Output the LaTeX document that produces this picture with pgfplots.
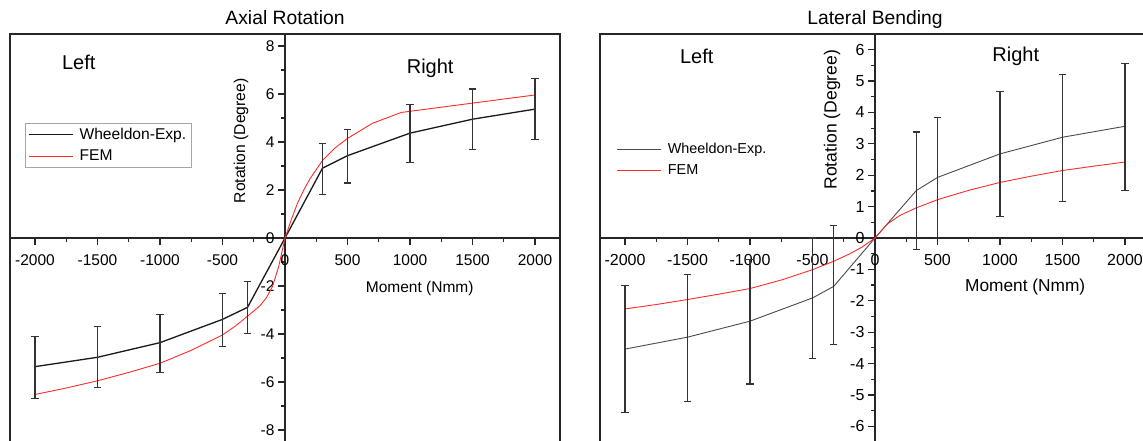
\documentclass[border=0pt]{standalone}
\usepackage{fontspec}
\setmainfont{Liberation Sans}
\usepackage{pgfplots}
\pgfplotsset{compat=1.18}
\usepackage{pgfplotstable}

\definecolor{frame}{HTML}{262626}
\definecolor{fem}{HTML}{FF2A2A}
\definecolor{errc}{HTML}{333333}
\definecolor{expR}{HTML}{4A4A4A}

% Axial rotation, experiment (Wheeldon): x, mean, +err, -err
\pgfplotstableread{
x y ep em
-2000 -5.36 1.25 1.32
-1500 -4.97 1.28 1.27
-1000 -4.36 1.18 1.24
-500 -3.39 1.08 1.14
-300 -2.89 1.07 1.08
0 0 0 0
300 2.91 1.02 1.11
500 3.43 1.08 1.14
1000 4.37 1.18 1.22
1500 4.95 1.26 1.27
2000 5.37 1.29 1.28
}\expA

\pgfplotstableread{
x y
-2000 -6.52
-1750 -6.25
-1500 -5.95
-1250 -5.60
-1000 -5.22
-750 -4.68
-500 -4.04
-400 -3.68
-300 -3.26
-200 -2.82
-150 -2.50
-100 -2.02
-50 -1.18
0 0
50 0.76
100 1.45
150 2.00
200 2.47
300 3.23
400 3.75
500 4.15
700 4.78
930 5.23
1000 5.28
1500 5.62
2000 5.96
}\femA

% Lateral bending, experiment
\pgfplotstableread{
x y ep em
-2000 -3.54 2.02 2.03
-1500 -3.16 1.99 2.04
-1000 -2.65 1.96 2.00
-500 -1.91 1.91 1.93
-330 -1.54 1.93 1.86
0 0 0 0
330 1.51 1.87 1.88
500 1.93 1.90 1.91
1000 2.68 1.98 1.99
1500 3.21 2.00 2.05
2000 3.56 2.01 2.04
}\expB

\pgfplotstableread{
x y
-2000 -2.26
-1750 -2.12
-1500 -1.96
-1250 -1.79
-1000 -1.61
-750 -1.34
-500 -1.01
-330 -0.74
-200 -0.50
-100 -0.28
0 0
100 0.45
200 0.72
330 0.96
500 1.22
750 1.52
1000 1.77
1250 1.97
1500 2.15
1750 2.29
2000 2.42
}\femB

\pgfplotsset{
  common/.style={
    scale only axis, width=550pt, height=408pt,
    axis lines=middle,
    axis line style={-, line width=1.6pt, draw=frame},
    xmin=-2200, xmax=2200,
    xtick={-2000,-1500,...,2000},
    minor x tick num=1,
    minor y tick num=1,
    tick align=outside,
    major tick length=7pt, minor tick length=4pt,
    tick style={line width=1.3pt, draw=frame},
    hide obscured x ticks=false, hide obscured y ticks=false,
    /pgf/number format/assume math mode=true,
    /pgf/number format/1000 sep={},
    xticklabel style={yshift=-6pt},
    clip=false,
    legend cell align=left,
    legend image code/.code={\draw[##1] (0pt,0pt) -- (44pt,0pt); \path (48pt,0pt);},
    title style={at={(0.5,1)}, anchor=base, yshift=3pt, font=\fontsize{19.3}{22}\selectfont},
  },
  errbars/.style={forget plot, draw=none, mark=none,
      error bars/.cd, y dir=both, y explicit,
      error bar style={draw=errc, solid, line width=1.2pt},
      error mark options={rotate=90, mark size=3.7pt, line width=1.2pt, draw=errc},
      /pgfplots/.cd},
}

\begin{document}
\begin{tikzpicture}
% ---------- Axial Rotation ----------
\begin{axis}[common,
  at={(10pt,-34pt)}, anchor=north west,
  ymin=-8.5, ymax=8.5,
  ytick={-8,-6,...,8},
  ticklabel style={font=\fontsize{15.5}{18}\selectfont},
  title={Axial Rotation},
  xlabel={Moment (Nmm)}, ylabel={Rotation (Degree)},
  xlabel style={at={(0.745,0.377)}, anchor=center, font=\fontsize{15.5}{18}\selectfont},
  ylabel style={at={(0.42,0.738)}, anchor=center, rotate=90, font=\fontsize{15.7}{18}\selectfont},
  legend style={at={(0.027,0.782)}, anchor=north west, draw=gray!70, line width=0.9pt,
    font=\fontsize{15.6}{19}\selectfont, inner xsep=3pt, inner ysep=3pt, row sep=5pt},
]
\draw[line width=1.6pt, frame] (rel axis cs:0,0) rectangle (rel axis cs:1,1);
\addplot[black!90, line width=1.3pt, mark=none] table[x=x, y=y] \expA;
\addlegendentry{Wheeldon-Exp.}
\addplot[fem, line width=0.9pt, mark=none] table[x=x, y=y] \femA;
\addlegendentry{FEM}
\addplot[skip coords between index={5}{6}, errbars] table[x=x, y=y, y error plus=ep, y error minus=em] \expA;
\node[font=\fontsize{20}{24}\selectfont] at (axis description cs:0.125,0.931) {Left};
\node[font=\fontsize{20}{24}\selectfont] at (axis description cs:0.764,0.917) {Right};
\end{axis}

% ---------- Lateral Bending ----------
\begin{axis}[common,
  at={(600pt,-34pt)}, anchor=north west,
  ymin=-6.5, ymax=6.5,
  ytick={-6,-5,...,6},
  ticklabel style={font=\fontsize{16}{19}\selectfont},
  title={Lateral Bending},
  xlabel={Moment (Nmm)}, ylabel={Rotation (Degree)},
  xlabel style={at={(0.773,0.381)}, anchor=center, font=\fontsize{17.3}{20}\selectfont},
  ylabel style={at={(0.422,0.790)}, anchor=center, rotate=90, font=\fontsize{17.6}{20}\selectfont},
  legend style={at={(0.025,0.742)}, anchor=north west, draw=none, fill=none,
    font=\fontsize{14.4}{17}\selectfont, row sep=5pt},
]
\draw[line width=1.6pt, frame] (rel axis cs:0,0) rectangle (rel axis cs:1,1);
\addplot[expR, line width=0.9pt, mark=none] table[x=x, y=y] \expB;
\addlegendentry{Wheeldon-Exp.}
\addplot[fem, line width=0.9pt, mark=none] table[x=x, y=y] \femB;
\addlegendentry{FEM}
\addplot[skip coords between index={5}{6}, errbars] table[x=x, y=y, y error plus=ep, y error minus=em] \expB;
\node[font=\fontsize{20}{24}\selectfont] at (axis description cs:0.176,0.945) {Left};
\node[font=\fontsize{20}{24}\selectfont] at (axis description cs:0.756,0.945) {Right};
\end{axis}

\pgfresetboundingbox
\path[use as bounding box] (0pt,0pt) rectangle (1143pt,-441pt);
\end{tikzpicture}
\end{document}
